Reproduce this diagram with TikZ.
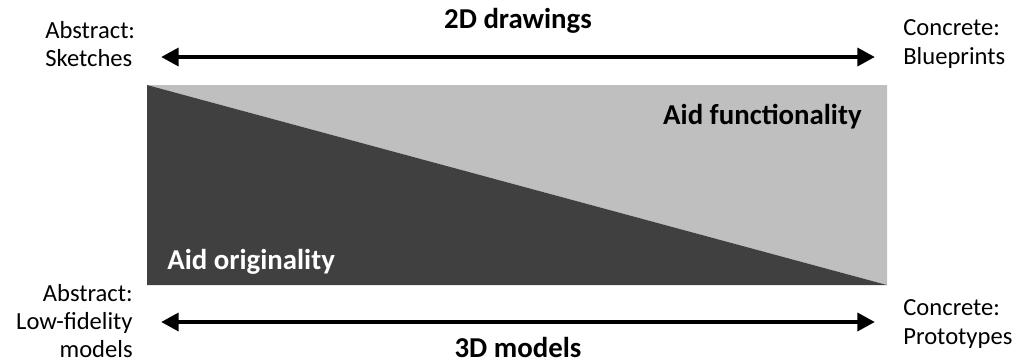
\documentclass[tikz,border=0pt]{standalone}
\usepackage{fontspec}
\setmainfont{Carlito}
\usepackage{xcolor}
\usetikzlibrary{arrows.meta, positioning}

\definecolor{darkfill}{HTML}{404040}
\definecolor{lightfill}{HTML}{BFBFBF}

\begin{document}
\begin{tikzpicture}[x=0.02cm, y=0.02cm, >={Triangle[length=10pt, width=10pt]},
  endlabel/.style={font=\fontsize{14}{16}\selectfont, inner sep=0pt},
  axislabel/.style={font=\fontsize{16.4}{19}\selectfont\bfseries, inner sep=0pt},
  spanarrow/.style={<->, line width=2.6pt}]

\useasboundingbox (0,0) rectangle (1014,363);

% Define the wedge areas
\coordinate (TL) at (147,278);
\coordinate (BL) at (147,78);
\coordinate (BR) at (887,78);
\coordinate (TR) at (887,278);
\fill[lightfill] (TL) -- (TR) -- (BR) -- cycle;
\fill[darkfill] (TL) -- (BR) -- (BL) -- cycle;

\node[axislabel, anchor=east] (func) at (862,246) {Aid functionality};
\node[axislabel, anchor=west, text=white] (orig) at (167,101) {Aid originality};

% 2D drawings axis
\coordinate (A1) at (161,306);
\coordinate (B1) at (875,306);
\draw[spanarrow] (A1) -- (B1);
\node[axislabel] (draw2d) at (518,342) {2D drawings};
\node[endlabel, anchor=west, align=left] (sketch) at (45,319) {Abstract:\\Sketches};
\node[endlabel, anchor=west, align=left] (blue) at (903,319) {Concrete:\\Blueprints};

% 3D models axis
\coordinate (A2) at (161,41);
\coordinate (B2) at (875,41);
\draw[spanarrow] (A2) -- (B2);
\node[axislabel] (model3d) at (518,16) {3D models};
\node[endlabel, anchor=east, align=right] (lowfi) at (133,42) {Abstract:\\Low-fidelity\\models};
\node[endlabel, anchor=west, align=left] (proto) at (903,39) {Concrete:\\Prototypes};

\end{tikzpicture}
\end{document}
